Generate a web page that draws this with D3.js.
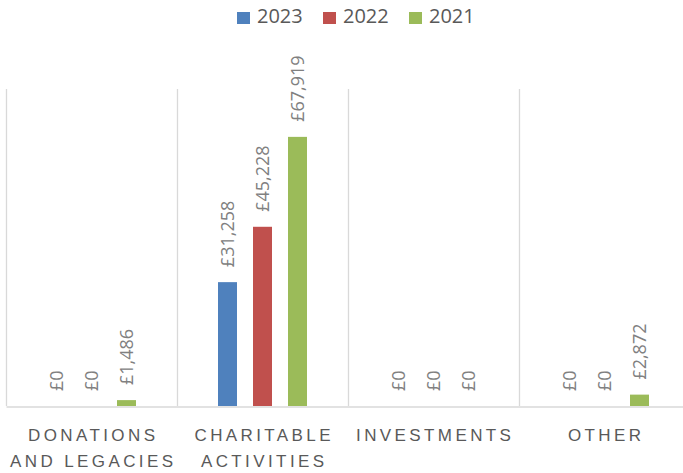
<!DOCTYPE html>
<html>
<head>
<meta charset="utf-8">
<script src="https://cdn.jsdelivr.net/npm/d3@7"></script>
<style>
    body { margin: 0; background: #fff; }
    svg { display: block; font-family: 'Open Sans', sans-serif; }
</style>
</head>
<body>
<div id="container"></div>
<script>
'use strict';

const categories = ['DONATIONS AND LEGACIES', 'CHARITABLE ACTIVITIES', 'INVESTMENTS', 'OTHER'];
const categoryLines = [['DONATIONS', 'AND LEGACIES'], ['CHARITABLE', 'ACTIVITIES'], ['INVESTMENTS'], ['OTHER']];
const years = ['2023', '2022', '2021'];
const values2023 = [0, 31258, 0, 0];
const values2022 = [0, 45228, 0, 0];
const values2021 = [1486, 67919, 0, 2872];
const yMax = 80000;

const colors = { '2023': '#4F81BD', '2022': '#C0504D', '2021': '#9BBB59' };
const seriesValues = { '2023': values2023, '2022': values2022, '2021': values2021 };

const w = 683;
const h = 473;
const plotLeft = 6;
const plotRight = 690;
const plotTop = 89;
const plotBottom = 406;

const svg = d3.select('#container')
                .append('svg')
                .attr('width', w)
                .attr('height', h);

const x0 = d3.scaleBand()
                .domain(categories)
                .range([plotLeft, plotRight]);
const x1 = d3.scaleBand()
                .domain(years)
                .range([41, 130])
                .paddingInner(16 / 35);
const y = d3.scaleLinear()
                .domain([0, yMax])
                .range([plotBottom, plotTop]);

const fmt = d3.format(',');

// vertical gridlines at category boundaries
const bounds = categories.map((c) => x0(c)).concat([plotRight]);
svg.append('g')
    .selectAll('line')
    .data(bounds)
    .enter()
    .append('line')
    .attr('x1', (d) => d + 0.5)
    .attr('x2', (d) => d + 0.5)
    .attr('y1', y(yMax))
    .attr('y2', plotBottom)
    .attr('stroke', '#D9D9D9')
    .attr('stroke-width', 1.3);

const data = [];
categories.forEach((c, i) => {
    years.forEach((yr) => {
        data.push({ cat: c, year: yr, value: seriesValues[yr][i] });
    });
});

svg.append('g')
    .selectAll('rect')
    .data(data)
    .enter()
    .append('rect')
    .attr('x', (d) => x0(d.cat) + x1(d.year))
    .attr('y', (d) => y(d.value))
    .attr('width', x1.bandwidth())
    .attr('height', (d) => plotBottom - y(d.value))
    .attr('fill', (d) => colors[d.year]);

svg.append('g')
    .selectAll('text')
    .data(data)
    .enter()
    .append('text')
    .attr('transform', (d) =>
        'translate(' + (x0(d.cat) + x1(d.year) + x1.bandwidth() / 2) + ',' + (y(d.value) - 15) + ') rotate(-90)')
    .attr('dy', '0.36em')
    .attr('font-size', 18)
    .attr('fill', '#808080')
    .text((d) => '£' + fmt(d.value));

// x axis
const xAxis = d3.axisBottom(x0)
                .tickSize(0)
                .tickFormat('');
const gx = svg.append('g')
    .attr('transform', 'translate(0, ' + (plotBottom + 0.5) + ')')
    .call(xAxis);
gx.select('.domain')
    .attr('stroke', '#D9D9D9')
    .attr('stroke-width', 1.3);

gx.selectAll('.tick')
    .append('text')
    .attr('fill', '#595959')
    .attr('font-size', 17)
    .attr('letter-spacing', 3.4)
    .attr('text-anchor', 'middle')
    .each(function (d, i) {
        const t = d3.select(this);
        categoryLines[i].forEach((line, k) => {
            t.append('tspan')
                .attr('x', 1.7)
                .attr('y', 34 + k * 26.5)
                .text(line);
        });
    });

// legend
const legend = svg.append('g');
years.forEach((yr, i) => {
    const lx = 237 + i * 86;
    legend.append('rect')
        .attr('x', lx)
        .attr('y', 12)
        .attr('width', 13)
        .attr('height', 12)
        .attr('fill', colors[yr]);
    legend.append('text')
        .attr('x', lx + 20)
        .attr('y', 23)
        .attr('font-size', 20)
        .attr('fill', '#595959')
        .text(yr);
});
</script>
</body>
</html>
